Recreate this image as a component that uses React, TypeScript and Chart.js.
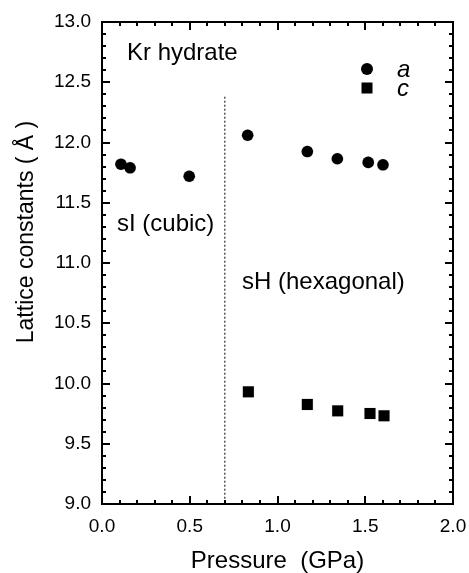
import React, { useEffect, useRef } from 'react';
import { Chart, registerables } from 'chart.js';

Chart.register(...registerables);

// Lattice constant a (circles)
const pressureA = [0.108, 0.16, 0.497, 0.83, 1.17, 1.341, 1.517, 1.601];
const latticeA = [11.82, 11.79, 11.72, 12.06, 11.925, 11.865, 11.835, 11.815];
// Lattice constant c (squares)
const pressureC = [0.834, 1.17, 1.343, 1.527, 1.607];
const latticeC = [9.931, 9.826, 9.773, 9.751, 9.732];
// sI / sH phase boundary (dashed line)
const boundaryPressure = [0.7, 0.7];
const boundaryLattice = [12.38, 9.0];
// axis ranges and tick settings
const xRange = [0, 2];
const yRange = [9, 13];
const minorStep = 0.1;
const majorStep = 0.5;

const FONT = '"Liberation Sans", Arial, Helvetica, sans-serif';

const isMajor = (v: number) => Math.abs(Math.round(v / majorStep) * majorStep - v) < 1e-6;

const decorPlugin = {
  id: 'decor',
  afterDraw(chart: any) {
    const ctx: CanvasRenderingContext2D = chart.ctx;
    const a = chart.chartArea;
    const xs = chart.scales.x;
    const ys = chart.scales.y;
    ctx.save();
    ctx.fillStyle = '#000000';
    const L = Math.round(a.left);
    const R = Math.round(a.right);
    const T = Math.round(a.top);
    const B = Math.round(a.bottom);
    // frame (2px)
    ctx.fillRect(L - 1, T - 1, R - L + 2, 2);
    ctx.fillRect(L - 1, B - 1, R - L + 2, 2);
    ctx.fillRect(L - 1, T - 1, 2, B - T + 2);
    ctx.fillRect(R - 1, T - 1, 2, B - T + 2);
    // inward ticks
    const xt = xs.ticks.map((t: any) => t.value);
    const yt = ys.ticks.map((t: any) => t.value);
    for (let i = 0; i < xt.length; i++) {
      const px = Math.round(xs.getPixelForValue(xt[i]));
      const len = isMajor(xt[i]) ? 8 : 4;
      ctx.fillRect(px - 1, B - len, 2, len);
      ctx.fillRect(px - 1, T, 2, len);
    }
    for (let i = 0; i < yt.length; i++) {
      const py = Math.round(ys.getPixelForValue(yt[i]));
      const len = isMajor(yt[i]) ? 8 : 4;
      ctx.fillRect(L, py - 1, len, 2);
      ctx.fillRect(R - len, py - 1, len, 2);
    }

    // annotations
    ctx.font = `24px ${FONT}`;
    ctx.textBaseline = 'alphabetic';
    ctx.textAlign = 'left';
    ctx.fillText('Kr hydrate', 127, 60);
    ctx.fillText('sI (cubic)', 117, 231);
    ctx.fillText('sH (hexagonal)', 242, 289);

    // legend
    ctx.beginPath();
    ctx.arc(367, 69, 6, 0, Math.PI * 2);
    ctx.fill();
    ctx.fillRect(361.5, 82.5, 11, 11);
    ctx.font = `italic 24px ${FONT}`;
    ctx.fillText('a', 397, 77);
    ctx.fillText('c', 397, 96);

    // axis titles
    ctx.font = `24px ${FONT}`;
    ctx.textAlign = 'center';
    ctx.fillText('Pressure  (GPa)', (a.left + a.right) / 2, 568);
    ctx.font = `23px ${FONT}`;
    ctx.translate(33, 232);
    ctx.rotate(-Math.PI / 2);
    ctx.fillText('Lattice constants ( Å )', 0, 0);
    ctx.restore();
  },
};

const edgeAxis = (position: string, axis: 'x' | 'y', range: number[]) => ({
  type: 'linear',
  position,
  axis,
  min: range[0],
  max: range[1],
  grid: { display: false, drawTicks: false },
  border: { display: true, color: '#000', width: 2 },
  ticks: { display: false },
  afterFit: (s: any) => {
    if (axis === 'x') s.height = 0;
    else s.width = 0;
    s.paddingLeft = 0;
    s.paddingRight = 0;
    s.paddingTop = 0;
    s.paddingBottom = 0;
  },
});

export default function App() {
  const ref = useRef<HTMLCanvasElement | null>(null);
  useEffect(() => {
    if (!ref.current) return;
    const chart = new Chart(ref.current, {
      type: 'scatter',
      data: {
        datasets: [
          {
            label: 'boundary',
            data: boundaryPressure.map((x, i) => ({ x, y: boundaryLattice[i] })),
            showLine: true,
            borderColor: '#000',
            borderWidth: 1,
            borderDash: [2, 2],
            pointRadius: 0,
          },
          {
            label: 'a',
            data: pressureA.map((x, i) => ({ x, y: latticeA[i] })),
            pointStyle: 'circle',
            pointRadius: 5.8,
            backgroundColor: '#000',
          },
          {
            label: 'c',
            data: pressureC.map((x, i) => ({ x, y: latticeC[i] })),
            pointStyle: 'rect',
            pointRadius: 7.8,
            backgroundColor: '#000',
          },
        ],
      },
      options: {
        responsive: false,
        animation: false,
        devicePixelRatio: 1,
        layout: { padding: { left: 0, right: 16, top: 22, bottom: 0 } },
        plugins: { legend: { display: false }, tooltip: { enabled: false } },
        scales: {
          x: {
            type: 'linear',
            position: 'bottom',
            min: xRange[0],
            max: xRange[1],
            grid: { display: false, drawTicks: false },
            border: { display: true, color: '#000', width: 2 },
            ticks: {
              stepSize: minorStep,
              autoSkip: false,
              maxRotation: 0,
              color: '#000',
              padding: 11,
              font: { family: FONT, size: 19 },
              callback: (v: any) => (isMajor(Number(v)) ? Number(v).toFixed(1) : ''),
            },
            afterFit: (s: any) => {
              s.height = 69;
              s.paddingLeft = 0;
              s.paddingRight = 0;
            },
          },
          y: {
            type: 'linear',
            position: 'left',
            min: yRange[0],
            max: yRange[1],
            grid: { display: false, drawTicks: false },
            border: { display: true, color: '#000', width: 2 },
            ticks: {
              stepSize: minorStep,
              autoSkip: false,
              color: '#000',
              padding: 11,
              font: { family: FONT, size: 19 },
              callback: (v: any) => (isMajor(Number(v)) ? Number(v).toFixed(1) : ''),
            },
            afterFit: (s: any) => {
              s.width = 102;
              s.paddingTop = 0;
              s.paddingBottom = 0;
            },
          },
          xTop: edgeAxis('top', 'x', xRange),
          yRight: edgeAxis('right', 'y', yRange),
        },
      } as any,
      plugins: [decorPlugin],
    });
    return () => chart.destroy();
  }, []);
  return (
    <div style={{ position: 'absolute', left: 0, top: 0, width: 469, height: 573, background: '#fff' }}>
      <canvas ref={ref} width={469} height={573} />
    </div>
  );
}
